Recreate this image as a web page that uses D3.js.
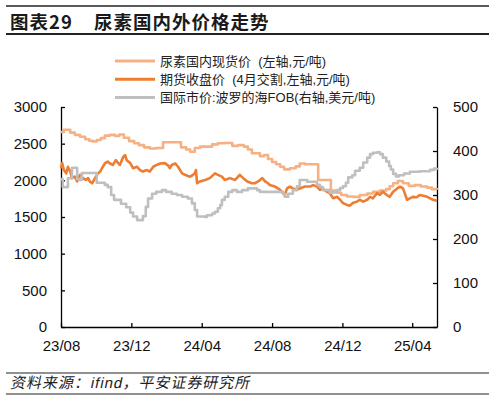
<!DOCTYPE html>
<html>
<head>
<meta charset="utf-8">
<script src="https://cdn.jsdelivr.net/npm/d3@7.9.0/dist/d3.min.js"></script>
<style>
  html, body { margin: 0; padding: 0; background: #fff; }
  svg { display: block; font-family: "Liberation Sans", Arial, "Noto Sans CJK SC", sans-serif; }
  text { white-space: pre; }
</style>
</head>
<body>
<svg id="chart"></svg>
<script>
// Data
const seriesNames = ['尿素国内现货价  (左轴,元/吨)', '期货收盘价  (4月交割,左轴,元/吨)', '国际市价:波罗的海FOB(右轴,美元/吨)'];
const xTicks = ['2023-08-01', '2023-12-01', '2024-04-01', '2024-08-01', '2024-12-01', '2025-04-01'];
const leftTicks = [0, 500, 1000, 1500, 2000, 2500, 3000];
const rightTicks = [0, 100, 200, 300, 400, 500];

// 尿素国内现货价 (元/吨)
const spotPrice = [
  ['2023-08-01', 2660], ['2023-08-06', 2690], ['2023-08-17', 2650], ['2023-08-25', 2620],
  ['2023-09-03', 2595], ['2023-09-12', 2560], ['2023-09-19', 2540], ['2023-09-25', 2530],
  ['2023-10-02', 2550], ['2023-10-09', 2575], ['2023-10-16', 2610], ['2023-10-25', 2620],
  ['2023-11-03', 2605], ['2023-11-10', 2625], ['2023-11-18', 2580], ['2023-11-27', 2535],
  ['2023-12-06', 2505], ['2023-12-14', 2480], ['2023-12-23', 2450], ['2024-01-02', 2435],
  ['2024-01-13', 2440], ['2024-01-25', 2520], ['2024-02-09', 2520], ['2024-02-25', 2450],
  ['2024-03-05', 2420], ['2024-03-12', 2390], ['2024-03-20', 2440], ['2024-03-29', 2460],
  ['2024-04-07', 2460], ['2024-04-19', 2490], ['2024-04-29', 2505], ['2024-05-11', 2510],
  ['2024-05-18', 2510], ['2024-05-24', 2470], ['2024-06-03', 2480], ['2024-06-13', 2460],
  ['2024-06-20', 2420], ['2024-06-27', 2370], ['2024-07-04', 2370], ['2024-07-11', 2330],
  ['2024-07-18', 2345], ['2024-07-25', 2290], ['2024-08-01', 2250], ['2024-08-08', 2220],
  ['2024-08-15', 2185], ['2024-08-22', 2150], ['2024-09-01', 2165], ['2024-09-11', 2190],
  ['2024-09-18', 2230], ['2024-09-27', 2220], ['2024-10-09', 2220], ['2024-10-20', 2005],
  ['2024-11-01', 2005], ['2024-11-11', 1860], ['2024-11-20', 1830], ['2024-11-29', 1800],
  ['2024-12-09', 1780], ['2024-12-19', 1775], ['2024-12-31', 1800], ['2025-01-13', 1820],
  ['2025-01-23', 1845], ['2025-02-04', 1860], ['2025-02-15', 1880], ['2025-02-21', 1920],
  ['2025-02-27', 1960], ['2025-03-07', 1990], ['2025-03-16', 1960], ['2025-03-26', 1925],
  ['2025-04-06', 1935], ['2025-04-16', 1915], ['2025-04-27', 1900], ['2025-05-05', 1880],
  ['2025-05-14', 1870]
];

// 期货收盘价 (元/吨)
const futuresPrice = [
  ['2023-08-01', 2160], ['2023-08-03', 2235], ['2023-08-06', 2140], ['2023-08-10', 2095],
  ['2023-08-13', 2185], ['2023-08-17', 2120], ['2023-08-20', 2030], ['2023-08-25', 2050],
  ['2023-08-29', 1985], ['2023-09-03', 2075], ['2023-09-08', 2030], ['2023-09-13', 2005],
  ['2023-09-17', 2030], ['2023-09-20', 1985], ['2023-09-24', 1960], ['2023-09-29', 2030],
  ['2023-10-04', 2095], ['2023-10-08', 2120], ['2023-10-11', 2165], ['2023-10-16', 2230],
  ['2023-10-21', 2255], ['2023-10-25', 2230], ['2023-10-30', 2210], ['2023-11-04', 2275],
  ['2023-11-08', 2235], ['2023-11-11', 2210], ['2023-11-17', 2320], ['2023-11-20', 2345],
  ['2023-11-23', 2275], ['2023-11-29', 2235], ['2023-12-04', 2165], ['2023-12-11', 2185],
  ['2023-12-16', 2140], ['2023-12-21', 2120], ['2023-12-28', 2140], ['2024-01-02', 2120],
  ['2024-01-08', 2185], ['2024-01-14', 2210], ['2024-01-20', 2230], ['2024-01-28', 2235],
  ['2024-02-03', 2200], ['2024-02-06', 2165], ['2024-02-09', 2210], ['2024-02-15', 2230],
  ['2024-02-20', 2185], ['2024-02-27', 2095], ['2024-03-03', 2075], ['2024-03-08', 2060],
  ['2024-03-12', 2050], ['2024-03-17', 2075], ['2024-03-20', 2095], ['2024-03-22', 2140],
  ['2024-03-24', 1960], ['2024-03-29', 1985], ['2024-04-07', 2005], ['2024-04-15', 2030],
  ['2024-04-24', 2095], ['2024-04-29', 2075], ['2024-05-06', 2050], ['2024-05-11', 2005],
  ['2024-05-20', 2030], ['2024-05-29', 2005], ['2024-06-06', 2075], ['2024-06-12', 2030],
  ['2024-06-19', 1985], ['2024-06-27', 1960], ['2024-07-02', 1960], ['2024-07-08', 1985],
  ['2024-07-11', 2005], ['2024-07-15', 2030], ['2024-07-20', 1985], ['2024-07-25', 1960],
  ['2024-07-28', 1935], ['2024-08-06', 1915], ['2024-08-11', 1890], ['2024-08-15', 1870],
  ['2024-08-20', 1825], ['2024-08-23', 1800], ['2024-08-27', 1890], ['2024-09-01', 1915],
  ['2024-09-06', 1890], ['2024-09-13', 1870], ['2024-09-18', 1890], ['2024-09-27', 1915],
  ['2024-10-06', 1915], ['2024-10-11', 1935], ['2024-10-18', 1915], ['2024-10-23', 1870],
  ['2024-10-28', 1890], ['2024-11-04', 1845], ['2024-11-09', 1825], ['2024-11-15', 1755],
  ['2024-11-22', 1775], ['2024-11-27', 1735], ['2024-12-02', 1690], ['2024-12-09', 1665],
  ['2024-12-14', 1655], ['2024-12-19', 1690], ['2024-12-26', 1710], ['2024-12-31', 1735],
  ['2025-01-06', 1710], ['2025-01-13', 1735], ['2025-01-18', 1775], ['2025-01-23', 1755],
  ['2025-01-30', 1825], ['2025-02-04', 1800], ['2025-02-09', 1845], ['2025-02-16', 1800],
  ['2025-02-21', 1775], ['2025-02-27', 1845], ['2025-03-06', 1890], ['2025-03-11', 1915],
  ['2025-03-16', 1890], ['2025-03-19', 1825], ['2025-03-23', 1735], ['2025-03-28', 1755],
  ['2025-04-02', 1775], ['2025-04-09', 1770], ['2025-04-14', 1800], ['2025-04-20', 1790],
  ['2025-04-27', 1775], ['2025-05-02', 1755], ['2025-05-07', 1735], ['2025-05-14', 1720]
];

// 国际市价:波罗的海FOB (美元/吨)
const fobPrice = [
  ['2023-08-01', 336], ['2023-08-04', 318], ['2023-08-11', 318], ['2023-08-13', 338],
  ['2023-08-20', 362], ['2023-08-27', 362], ['2023-08-29', 336], ['2023-09-03', 334],
  ['2023-09-06', 350], ['2023-10-01', 350], ['2023-10-02', 328], ['2023-10-16', 323],
  ['2023-10-21', 318], ['2023-10-27', 300], ['2023-11-01', 289], ['2023-11-13', 280],
  ['2023-11-22', 272], ['2023-11-29', 260], ['2023-12-04', 251], ['2023-12-11', 243],
  ['2023-12-19', 243], ['2023-12-21', 252], ['2023-12-26', 273], ['2023-12-30', 292],
  ['2024-01-06', 303], ['2024-01-13', 307], ['2024-01-23', 311], ['2024-01-30', 307],
  ['2024-02-09', 303], ['2024-02-18', 300], ['2024-02-27', 296], ['2024-03-08', 292],
  ['2024-03-15', 281], ['2024-03-20', 266], ['2024-03-24', 251], ['2024-04-07', 250],
  ['2024-04-10', 254], ['2024-04-19', 258], ['2024-04-24', 262], ['2024-04-29', 270],
  ['2024-05-03', 277], ['2024-05-06', 289], ['2024-05-11', 296], ['2024-05-17', 307],
  ['2024-05-24', 311], ['2024-06-01', 307], ['2024-06-10', 311], ['2024-06-20', 315],
  ['2024-07-06', 311], ['2024-07-11', 307], ['2024-08-20', 303], ['2024-08-23', 296],
  ['2024-08-29', 303], ['2024-09-06', 311], ['2024-09-13', 320], ['2024-09-18', 334],
  ['2024-10-01', 330], ['2024-10-18', 323], ['2024-10-23', 318], ['2024-10-28', 311],
  ['2024-11-09', 305], ['2024-11-15', 307], ['2024-11-22', 311], ['2024-11-27', 316],
  ['2024-12-02', 320], ['2024-12-07', 328], ['2024-12-11', 340], ['2024-12-18', 345],
  ['2024-12-23', 355], ['2024-12-31', 362], ['2025-01-06', 374], ['2025-01-13', 385],
  ['2025-01-18', 393], ['2025-01-23', 396], ['2025-01-30', 397], ['2025-02-04', 393],
  ['2025-02-09', 385], ['2025-02-15', 376], ['2025-02-20', 366], ['2025-02-23', 358],
  ['2025-02-27', 348], ['2025-03-04', 342], ['2025-03-09', 345], ['2025-03-18', 349],
  ['2025-03-28', 353], ['2025-04-14', 354], ['2025-05-02', 357], ['2025-05-09', 360],
  ['2025-05-14', 362]
];

const colors = ['#F5B183', '#ED7D31', '#BFBFBF'];

// Dimensions
const width = 495;
const height = 402;
const marginLeft = 61;
const marginRight = 58;
const marginTop = 107;
const marginBottom = 75;

const parse = d3.utcParse('%Y-%m-%d');

const x = d3
  .scaleUtc()
  .domain([parse('2023-08-01'), parse('2025-05-14')])
  .range([marginLeft, width - marginRight]);

const yLeft = d3
  .scaleLinear()
  .domain([0, 3000])
  .range([height - marginBottom, marginTop]);

const yRight = d3
  .scaleLinear()
  .domain([0, 500])
  .range([height - marginBottom, marginTop]);

const svg = d3
  .select('#chart')
  .attr('width', width)
  .attr('height', height)
  .attr('viewBox', [0, 0, width, height]);

// Title block
svg.append('line')
  .attr('x1', 6).attr('x2', 489).attr('y1', 6).attr('y2', 6)
  .attr('stroke', '#222').attr('stroke-width', 1.3);
svg.append('text')
  .attr('x', 10).attr('y', 29)
  .attr('font-family', '"Noto Sans CJK SC", sans-serif')
  .attr('font-weight', 'bold')
  .attr('font-size', 18.5)
  .attr('letter-spacing', 1)
  .attr('fill', '#1a1a1a')
  .text('图表29');
svg.append('text')
  .attr('x', 94).attr('y', 29)
  .attr('font-family', '"Noto Sans CJK SC", sans-serif')
  .attr('font-weight', 'bold')
  .attr('font-size', 18.5)
  .attr('letter-spacing', 1)
  .attr('fill', '#1a1a1a')
  .text('尿素国内外价格走势');
svg.append('line')
  .attr('x1', 6).attr('x2', 489).attr('y1', 34).attr('y2', 34)
  .attr('stroke', '#222').attr('stroke-width', 2);

// Footer
svg.append('line')
  .attr('x1', 6).attr('x2', 489).attr('y1', 373).attr('y2', 373)
  .attr('stroke', '#222').attr('stroke-width', 1.2);
svg.append('text')
  .attr('transform', 'translate(10,388) skewX(-12)')
  .attr('font-size', 15)
  .attr('letter-spacing', 1)
  .attr('fill', '#222')
  .text('资料来源：ifind，平安证券研究所');
svg.append('line')
  .attr('x1', 6).attr('x2', 489).attr('y1', 394).attr('y2', 394)
  .attr('stroke', '#222').attr('stroke-width', 1.2);

// Axes
const styleAxis = (g) => {
  g.selectAll('.domain').attr('stroke', '#000').attr('stroke-width', 1.3);
  g.selectAll('.tick line').attr('stroke', '#000').attr('stroke-width', 1.3);
  g.selectAll('.tick text').attr('fill', '#111').attr('font-size', 15)
    .attr('font-family', '"Liberation Sans", Arial, sans-serif');
};

svg.append('g')
  .attr('transform', `translate(0,${height - marginBottom})`)
  .call(
    d3.axisBottom(x)
      .tickValues(xTicks.map(parse))
      .tickFormat(d3.utcFormat('%y/%m'))
      .tickSizeInner(-4)
      .tickSizeOuter(0)
      .tickPadding(13),
  )
  .call(styleAxis);

svg.append('g')
  .attr('transform', `translate(${marginLeft},0)`)
  .call(
    d3.axisLeft(yLeft)
      .tickValues(leftTicks)
      .tickFormat(d3.format('d'))
      .tickSizeInner(-4)
      .tickSizeOuter(0)
      .tickPadding(14),
  )
  .call(styleAxis);

svg.append('g')
  .attr('transform', `translate(${width - marginRight},0)`)
  .call(
    d3.axisRight(yRight)
      .tickValues(rightTicks)
      .tickFormat(d3.format('d'))
      .tickSizeInner(-4)
      .tickSizeOuter(0)
      .tickPadding(16),
  )
  .call(styleAxis);

// Lines
const rows = [spotPrice, futuresPrice, fobPrice].map((s) => s.map(([d, v]) => ({ date: parse(d), value: v })));

const lineLeftStep = d3.line().curve(d3.curveStepAfter).x((d) => x(d.date)).y((d) => yLeft(d.value));
const lineLeft = d3.line().x((d) => x(d.date)).y((d) => yLeft(d.value));
const lineRightStep = d3.line().curve(d3.curveStepAfter).x((d) => x(d.date)).y((d) => yRight(d.value));

const gens = [lineLeftStep, lineLeft, lineRightStep];

svg.append('g')
  .selectAll('path')
  .data(rows)
  .join('path')
  .attr('fill', 'none')
  .attr('stroke', (d, i) => colors[i])
  .attr('stroke-width', 2.6)
  .attr('stroke-linejoin', 'round')
  .attr('d', (d, i) => gens[i](d));

// Legend
const legend = svg.append('g')
  .selectAll('g')
  .data(seriesNames)
  .join('g')
  .attr('transform', (d, i) => `translate(115,${61 + i * 18.3})`);

legend.append('line')
  .attr('x1', 0).attr('x2', 40)
  .attr('stroke', (d, i) => colors[i])
  .attr('stroke-width', 3);

legend.append('text')
  .attr('x', 45)
  .attr('dy', '0.35em')
  .attr('font-size', 13)
  .attr('fill', '#222')
  .text((d) => d);
</script>
</body>
</html>
